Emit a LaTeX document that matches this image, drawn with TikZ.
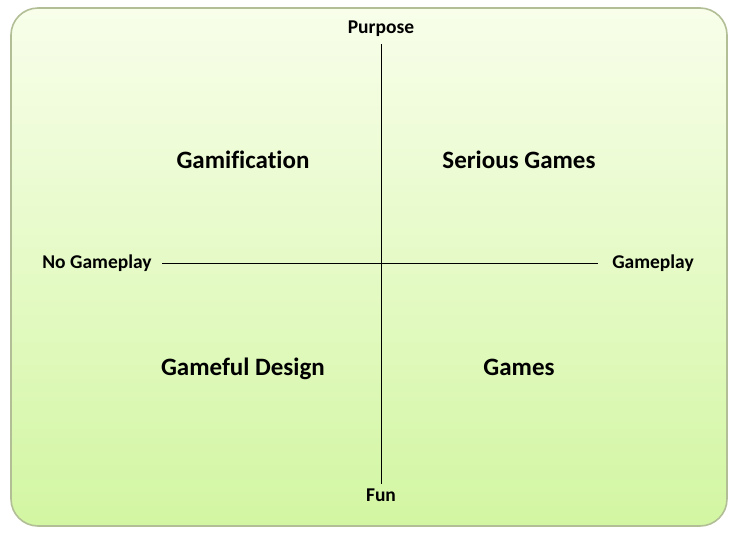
\documentclass[tikz,border=0pt]{standalone}
\usepackage{fontspec}
\setmainfont{Carlito}[Ligatures=NoCommon]
\usepackage{tikz}
\definecolor{palegreen}{RGB}{248,254,234}
\definecolor{limegreen}{RGB}{210,246,162}
\definecolor{rimgreen}{RGB}{178,190,150}
\tikzstyle{axislabel}=[font=\bfseries\fontsize{19.5}{23}\selectfont,inner sep=4pt]
\tikzstyle{quadrant}=[font=\bfseries\fontsize{25}{30}\selectfont,inner sep=0pt,anchor=base]

\begin{document}
\begin{tikzpicture}[x=1pt,y=-1pt,line width=0.8pt]
    \useasboundingbox (0,0) rectangle (742,536);
    \draw [rimgreen, line width=1.6pt, rounded corners=27pt, top color=palegreen, bottom color=limegreen]
        (11,8) rectangle (727,526);
    \node [axislabel] (purpose) at (381, 29) {Purpose};
    \node [axislabel] (fun) at (381, 495) {Fun};
    \node [axislabel, inner sep=10pt] (nogame) at (97, 263) {No Gameplay};
    \node [axislabel, inner sep=10pt] (game) at (653, 263) {Gameplay};
    \draw [shorten <=3pt] (purpose) -- (fun);
    \draw [shorten >=4pt] (nogame) -- (game);
    \node [quadrant] (gamification) at (243, 168) {Gamification};
    \node [quadrant] (serious) at (519, 168) {Serious Games};
    \node [quadrant] (gameful) at (243, 375) {Gameful Design};
    \node [quadrant] (games) at (519, 375) {Games};
\end{tikzpicture}
\end{document}
